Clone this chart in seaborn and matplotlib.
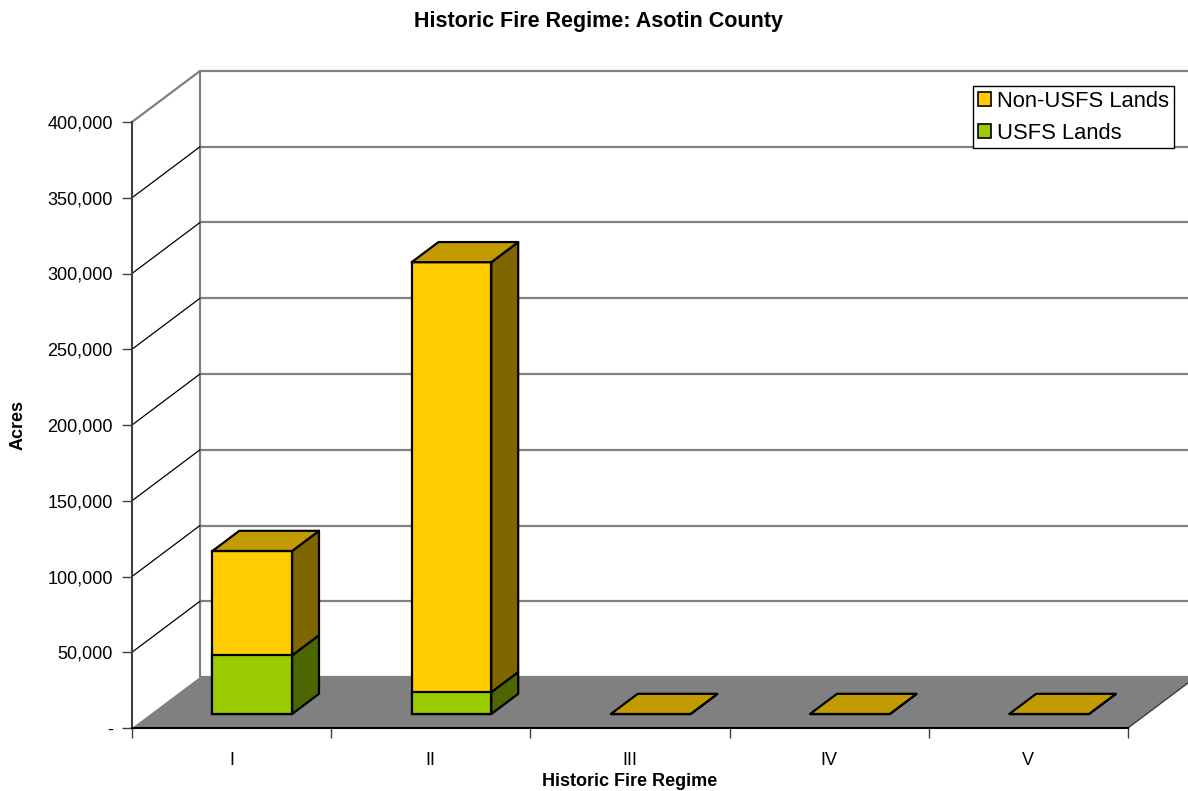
import matplotlib
matplotlib.use("Agg")
import matplotlib.pyplot as plt
import seaborn as sns
from matplotlib.patches import Polygon, Patch
from matplotlib.transforms import Affine2D
from matplotlib.ticker import FuncFormatter, FixedLocator

# ---- data -------------------------------------------------------------
regimes = ["I", "II", "III", "IV", "V"]
usfs_acres = [38700, 14400, 0, 0, 0]
non_usfs_acres = [68900, 283800, 0, 0, 0]
series_names = ["Non-USFS Lands", "USFS Lands"]
y_ticks = [0, 50000, 100000, 150000, 200000, 250000, 300000, 350000, 400000]

totals = [u + n for u, n in zip(usfs_acres, non_usfs_acres)]

# ---- colours ----------------------------------------------------------
YELLOW, YELLOW_TOP, YELLOW_SIDE = "#FFCC00", "#C29B00", "#806600"
GREEN, GREEN_SIDE = "#99CC00", "#4D6600"
FLOOR = "#808080"
GRID = "#808080"

sns.set_style("white")
plt.rcParams["font.family"] = ["Liberation Sans", "DejaVu Sans"]
plt.rcParams["text.color"] = "black"
plt.rcParams["axes.labelcolor"] = "black"

W, H = 1188, 791
fig = plt.figure(figsize=(W / 100, H / 100), dpi=100)
# axes: left edge at the value axis, bottom at the category axis
ax = fig.add_axes([132 / W, 1 - 728 / H, (W - 132) / W, 668 / H])

cat_px = 199.2                      # pixels per category
val_px = 606 / 400000               # pixels per acre
xmin = -0.5
xmax = xmin + (W - 132) / cat_px
ymax = 668 / val_px

# perspective depth of the chart box (data units)
DX = 68 / cat_px
DY = 51 / val_px
# bar placement inside the depth
f_front, f_depth = 0.275, 0.395
fx, fy = f_front * DX + 2 / cat_px, f_front * DY
bx, by = f_depth * DX, f_depth * DY

n = len(regimes)

# ---- bars (front faces) ----------------------------------------------
sns.barplot(x=regimes, y=totals, color=YELLOW, saturation=1, width=0.4,
            edgecolor="black", linewidth=1.6, ax=ax, zorder=5)
sns.barplot(x=regimes, y=usfs_acres, color=GREEN, saturation=1, width=0.4,
            edgecolor="black", linewidth=1.6, ax=ax, zorder=6)
bars_total = ax.patches[:n]
bars_usfs = ax.patches[n:2 * n]
shift = Affine2D().translate(fx, fy) + ax.transData
for p in bars_total + bars_usfs:
    p.set_transform(shift)

ax.set_xlim(xmin, xmax)
ax.set_ylim(0, ymax)

# ---- back wall, side wall and floor ----------------------------------
x_back = xmin + DX
ax.plot([x_back, x_back], [DY, y_ticks[-1] + DY], color=GRID, lw=1.6, zorder=1, clip_on=False)
for v in y_ticks:
    ax.plot([x_back, xmax], [v + DY, v + DY], color=GRID, lw=1.6, zorder=1, clip_on=False)
    if v > 0:
        col, lw = ("#808080", 1.6) if v == y_ticks[-1] else ("black", 0.9)
        ax.plot([xmin, x_back], [v, v + DY], color=col, lw=lw, zorder=1, clip_on=False)

floor = Polygon([(xmin, 0), (n - 0.5, 0), (n - 0.5 + DX, DY), (xmin + DX, DY)],
                closed=True, facecolor=FLOOR, edgecolor="none", zorder=2, clip_on=False)
ax.add_patch(floor)
ax.plot([n - 0.5, n - 0.5 + DX], [0, DY], color="#333333", lw=0.9, zorder=2, clip_on=False)

# side and top faces
for bt, bu in zip(bars_total, bars_usfs):
    x0, w = bt.get_x(), bt.get_width()
    t, u = bt.get_height(), bu.get_height()
    xl, xr = x0 + fx, x0 + w + fx
    faces = [
        ([(xr, fy), (xr, fy + u), (xr + bx, fy + u + by), (xr + bx, fy + by)], GREEN_SIDE),
        ([(xr, fy + u), (xr, fy + t), (xr + bx, fy + t + by), (xr + bx, fy + u + by)], YELLOW_SIDE),
        ([(xl, fy + t), (xr, fy + t), (xr + bx, fy + t + by), (xl + bx, fy + t + by)], YELLOW_TOP),
    ]
    for pts, col in faces:
        ax.add_patch(Polygon(pts, closed=True, facecolor=col, edgecolor="black",
                             linewidth=1.6, joinstyle="round", zorder=7))

# ---- axes, ticks and labels ------------------------------------------
for s in ("top", "right"):
    ax.spines[s].set_visible(False)
ax.spines["left"].set_bounds(0, y_ticks[-1])
ax.spines["left"].set_color("#404040")
ax.spines["left"].set_linewidth(1.5)
ax.spines["bottom"].set_bounds(xmin, n - 0.5)
ax.spines["bottom"].set_color("black")
ax.spines["bottom"].set_linewidth(1.5)
ax.spines["left"].set_zorder(8)
ax.spines["bottom"].set_zorder(8)

ax.set_yticks(y_ticks)
ax.yaxis.set_major_formatter(FuncFormatter(lambda v, _: "-" if v == 0 else f"{v:,.0f}"))
ax.tick_params(axis="y", which="both", left=True, length=7.2, width=1.0,
               color="#404040", pad=6.5, labelsize=12.96, labelcolor="black")

ax.set_xticks(range(n))
ax.set_xticklabels(regimes)
ax.xaxis.set_minor_locator(FixedLocator([i - 0.5 for i in range(n + 1)]))
ax.tick_params(axis="x", which="major", bottom=True, length=0, pad=17,
               labelsize=12.96, labelcolor="black")
ax.tick_params(axis="x", which="minor", bottom=True, length=7.2, width=1.0, color="#404040")

ax.set_xlabel("Historic Fire Regime", fontsize=12.96, fontweight="bold", va="baseline",
              color="black")
ax.xaxis.set_label_coords((630 - 132) / (W - 132), (728 - 786) / 668)
ax.set_ylabel("Acres", fontsize=12.96, fontweight="bold", va="center", color="black")
ax.yaxis.set_label_coords((18 - 132) / (W - 132), (728 - 425) / 668)

fig.text(598.5 / W, 1 - 27 / H, "Historic Fire Regime: Asotin County",
         ha="center", va="baseline", fontsize=15.5, fontweight="bold", color="black")

# ---- legend ----------------------------------------------------------
handles = [Patch(facecolor=YELLOW, edgecolor="black", linewidth=1.2),
           Patch(facecolor=GREEN, edgecolor="black", linewidth=1.2)]
leg = fig.legend(handles, series_names, loc="upper left",
                 bbox_to_anchor=(972.7 / W, 1 - 86 / H), bbox_transform=fig.transFigure,
                 fontsize=15.8, frameon=True, fancybox=False, shadow=False,
                 borderpad=0.22, handlelength=0.62, handleheight=0.62,
                 handletextpad=0.28, labelspacing=0.49, borderaxespad=0)
for txt in leg.get_texts():
    txt.set_color("black")
leg.get_frame().set_edgecolor("black")
leg.get_frame().set_linewidth(1.0)
leg.get_frame().set_alpha(1)

fig.savefig("out.png", dpi=100)
